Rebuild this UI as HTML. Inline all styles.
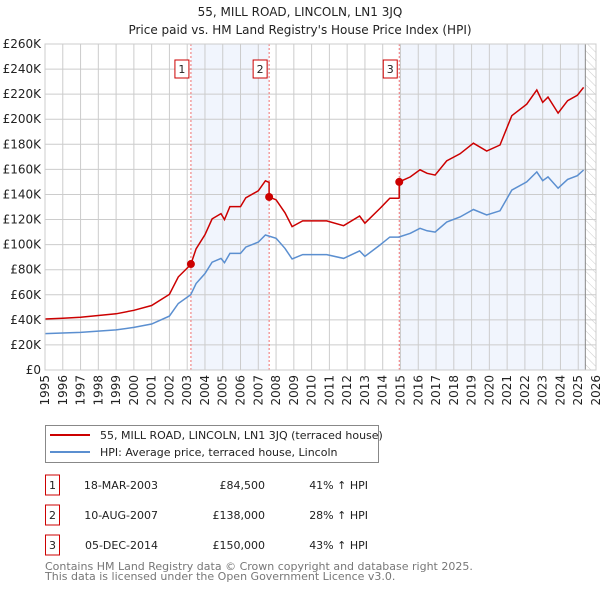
<!DOCTYPE html>
<html><head><meta charset="utf-8"><style>
body{margin:0;background:#fff;font-family:"DejaVu Sans","Liberation Sans",sans-serif;}
svg text{font-family:"DejaVu Sans","Liberation Sans",sans-serif;}
</style></head><body>
<svg id="c" width="600" height="590" viewBox="0 0 600 590" xmlns="http://www.w3.org/2000/svg">
<defs><pattern id="hatch" width="6" height="6" patternUnits="userSpaceOnUse" patternTransform="rotate(-45)"><line x1="0" y1="0" x2="0" y2="6" stroke="#ccc" stroke-width="1"/></pattern></defs>
<text x="300" y="16" text-anchor="middle" font-size="12" fill="#222">55, MILL ROAD, LINCOLN, LN1 3JQ</text>
<text x="300" y="34" text-anchor="middle" font-size="12" fill="#222">Price paid vs. HM Land Registry's House Price Index (HPI)</text>
<g id="plot"></g>
<g>
<rect x="45.5" y="425.5" width="333" height="37" fill="#fff" stroke="#888"/>
<line x1="50" y1="435" x2="90" y2="435" stroke="#cc0000" stroke-width="2"/>
<text x="100" y="439" font-size="11" fill="#222">55, MILL ROAD, LINCOLN, LN1 3JQ (terraced house)</text>
<line x1="50" y1="452" x2="90" y2="452" stroke="#5b8fd0" stroke-width="2"/>
<text x="100" y="456" font-size="11" fill="#222">HPI: Average price, terraced house, Lincoln</text>
</g>
<g id="table" font-size="11" fill="#222"></g>
<text x="45" y="570" font-size="11" fill="#777">Contains HM Land Registry data © Crown copyright and database right 2025.</text>
<text x="45" y="580" font-size="11" fill="#777">This data is licensed under the Open Government Licence v3.0.</text>
</svg>
<script>
const hpiYears=[1995,1996,1997,1998,1999,2000,2001,2002,2002.5,2003.2,2003.5,2004,2004.4,2004.9,2005.1,2005.4,2006,2006.3,2007,2007.4,2008,2008.5,2008.9,2009.5,2009.9,2010.85,2011.8,2012.7,2013.0,2013.85,2014.4,2014.9,2015.55,2016.1,2016.5,2016.95,2017.6,2018.35,2019.1,2019.85,2020.6,2021.26,2022.1,2022.67,2023.0,2023.3,2023.87,2024.4,2024.95,2025.3];
const hpiValues=[29,29.5,30,31,32,34,36.7,43,53,60,69,77,86,89,85.6,93,93,98,102,107.7,105,97,88.5,92,92,92,89,95,90.6,99.7,106,106,109,113,111,110,118,122,128,123.6,127,143.5,150,158,151,154,145,152,155,159.5];
const saleLabels=["1","2","3"];
const saleDates=["18-MAR-2003","10-AUG-2007","05-DEC-2014"];
const saleYears=[2003.21,2007.61,2014.93];
const salePrices=[84.5,138,150];
const salePctText=["41% ↑ HPI","28% ↑ HPI","43% ↑ HPI"];
const yTicks=[0,20,40,60,80,100,120,140,160,180,200,220,240,260];
const xTicks=[1995,1996,1997,1998,1999,2000,2001,2002,2003,2004,2005,2006,2007,2008,2009,2010,2011,2012,2013,2014,2015,2016,2017,2018,2019,2020,2021,2022,2023,2024,2025,2026];
const futureStart=2025.4;

const NS="http://www.w3.org/2000/svg";
const L=45,R=596,T=44,B=370;
const X=y=>L+(y-1995)*(R-L)/31;
const Y=v=>B-v*(B-T)/260;
const g=document.getElementById('plot');
function mk(tag,attrs,parent){const e=document.createElementNS(NS,tag);for(const k in attrs)e.setAttribute(k,attrs[k]);(parent||g).appendChild(e);return e;}
function hpiAt(t){for(let i=0;i<hpiYears.length-1;i++){if(t<=hpiYears[i+1]){const f=(t-hpiYears[i])/(hpiYears[i+1]-hpiYears[i]);return hpiValues[i]+f*(hpiValues[i+1]-hpiValues[i]);}}return hpiValues[hpiValues.length-1];}

let s1=mk('rect',{x:X(saleYears[0]),y:T,width:X(saleYears[1])-X(saleYears[0]),height:B-T,fill:'#eef3fc',opacity:0.8});

let s2=mk('rect',{x:X(saleYears[2]),y:T,width:X(futureStart)-X(saleYears[2]),height:B-T,fill:'#eef3fc',opacity:0.8});

let hf=mk('rect',{x:X(futureStart),y:T,width:R-X(futureStart),height:B-T,fill:'url(#hatch)'});


yTicks.forEach(v=>{
 const ln=mk('line',{x1:L,x2:R,y1:Y(v),y2:Y(v),stroke:'#ccc','stroke-width':1});
 
 const t=mk('text',{x:L-4,y:Y(v)+4,'text-anchor':'end','font-size':12,fill:'#222'});
 t.textContent='£'+v+(v?'K':'');
 
});
xTicks.forEach(yr=>{
 const ln=mk('line',{x1:X(yr),x2:X(yr),y1:T,y2:B,stroke:'#ccc','stroke-width':1});
 
 const tx=X(yr)+4,ty=B+5;
 const t=mk('text',{x:tx,y:ty,'text-anchor':'end','font-size':12,fill:'#222',transform:'rotate(-90 '+tx+' '+ty+')'});
 t.textContent=yr;
 
});
let fl=mk('line',{x1:X(futureStart),x2:X(futureStart),y1:T,y2:B,stroke:'#888','stroke-width':1});


saleYears.forEach((yr,i)=>{
 const ln=mk('line',{x1:X(yr),x2:X(yr),y1:T,y2:B,stroke:'#f07070','stroke-width':1,'stroke-dasharray':'2,2'});
 
 const bx=mk('rect',{x:X(yr)-16,y:60,width:14,height:18,fill:'#fff',stroke:'#cc0000'});
 
 const t=mk('text',{x:X(yr)-9,y:73,'text-anchor':'middle','font-size':11,fill:'#222'});
 t.textContent=saleLabels[i];
 
});

let hp=hpiYears.map((yr,i)=>X(yr).toFixed(1)+','+Y(hpiValues[i]).toFixed(1)).join(' ');
let hl=mk('polyline',{points:hp,fill:'none',stroke:'#5b8fd0','stroke-width':1.5});


function factorAt(t){let k=0;for(let i=0;i<saleYears.length;i++){if(t>=saleYears[i])k=i;}return salePrices[k]/hpiAt(saleYears[k]);}
let pts=[];
hpiYears.forEach(yr=>{
 saleYears.forEach((sy,i)=>{if(pts.length&&pts[pts.length-1][0]<sy&&yr>=sy){pts.push([sy,hpiAt(sy)*factorAt(sy-0.001)]);pts.push([sy,salePrices[i]]);}});
 pts.push([yr,hpiAt(yr)*factorAt(yr)]);
});
let pl=mk('polyline',{points:pts.map(p=>X(p[0]).toFixed(1)+','+Y(p[1]).toFixed(1)).join(' '),fill:'none',stroke:'#cc0000','stroke-width':1.5});

saleYears.forEach((yr,i)=>{
 const c=mk('circle',{cx:X(yr),cy:Y(salePrices[i]),r:4,fill:'#cc0000'});
 
});
let ax=mk('rect',{x:L,y:T,width:R-L,height:B-T,fill:'none',stroke:'#ccc'});


const tb=document.getElementById('table');
saleLabels.forEach((lab,i)=>{
 const cy=485+i*30;
 const bx=mk('rect',{x:45.5,y:cy-10,width:14,height:20,fill:'#fff',stroke:'#cc0000'},tb);
 
 const t0=mk('text',{x:52.5,y:cy+4,'text-anchor':'middle'},tb);t0.textContent=lab;
 
 const t1=mk('text',{x:158,y:cy+4,'text-anchor':'end'},tb);t1.textContent=saleDates[i];
 
 const t2=mk('text',{x:265,y:cy+4,'text-anchor':'end'},tb);t2.textContent='£'+(salePrices[i]*1000).toLocaleString('en-GB');
 
 const t3=mk('text',{x:368,y:cy+4,'text-anchor':'end'},tb);t3.textContent=salePctText[i];
 
});
</script>
</body></html>
